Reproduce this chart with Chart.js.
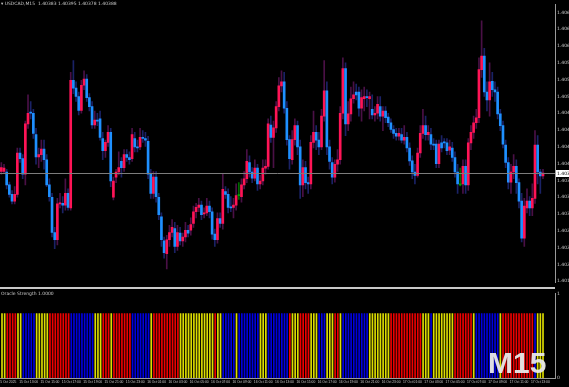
<!DOCTYPE html>
<html>
<head>
<meta charset="utf-8">
<script src="https://cdn.jsdelivr.net/npm/chart.js@4.4.0/dist/chart.umd.min.js"></script>
<style>
html, body { margin: 0; padding: 0; background: #000; overflow: hidden; }
#wrap { position: relative; width: 569px; height: 387px; }
#priceChart { position: absolute; left: 0; top: 0; }
#sep { position: absolute; left: 0; top: 287px; width: 555px; height: 2px; background: #c8c8c8; }
#strengthChart { position: absolute; left: 0; top: 289px; }
</style>
</head>
<body>
<div id="wrap">
  <canvas id="priceChart" width="569" height="287"></canvas>
  <div id="sep"></div>
  <canvas id="strengthChart" width="569" height="98"></canvas>
</div>
<script>
// USDCAD M15 candles
const opens = [
1.40391,1.40391,1.40390,1.40367,1.40350,1.40338,1.40350,1.40424,1.40414,1.40386,
1.40476,1.40497,1.40495,1.40457,1.40417,1.40421,1.40431,1.40412,1.40367,1.40345,
1.40282,1.40269,1.40333,1.40334,1.40331,1.40352,1.40326,1.40554,1.40540,1.40525,
1.40500,1.40545,1.40556,1.40523,1.40507,1.40474,1.40483,1.40485,1.40450,1.40428,
1.40443,1.40461,1.40345,1.40381,1.40390,1.40409,1.40398,1.40421,1.40416,1.40414,
1.40450,1.40435,1.40435,1.40452,1.40450,1.40445,1.40386,1.40352,1.40381,1.40345,
1.40310,1.40267,1.40244,1.40269,1.40282,1.40289,1.40257,1.40281,1.40267,1.40274,
1.40286,1.40286,1.40298,1.40319,1.40327,1.40331,1.40315,1.40317,1.40329,1.40319,
1.40279,1.40269,1.40307,1.40298,1.40355,1.40350,1.40327,1.40327,1.40331,1.40348,
1.40346,1.40367,1.40378,1.40407,1.40390,1.40379,1.40397,1.40369,1.40374,1.40397,
1.40400,1.40474,1.40452,1.40469,1.40507,1.40544,1.40551,1.40504,1.40448,1.40412,
1.40448,1.40473,1.40435,1.40367,1.40398,1.40371,1.40369,1.40443,1.40461,1.40447,
1.40435,1.40490,1.40535,1.40435,1.40407,1.40381,1.40404,1.40412,1.40495,1.40575,
1.40476,1.40494,1.40521,1.40533,1.40533,1.40504,1.40521,1.40525,1.40521,1.40502,
1.40492,1.40495,1.40507,1.40490,1.40499,1.40488,1.40478,1.40466,1.40459,1.40454,
1.40457,1.40447,1.40452,1.40433,1.40410,1.40390,1.40384,1.40424,1.40459,1.40473,
1.40457,1.40457,1.40440,1.40440,1.40405,1.40442,1.40443,1.40442,1.40429,1.40433,
1.40416,1.40390,1.40367,1.40369,1.40400,1.40367,1.40442,1.40461,1.40478,1.40487,
1.40573,1.40597,1.40533,1.40519,1.40552,1.40537,1.40533,1.40494,1.40473,1.40438,
1.40407,1.40372,1.40390,1.40400,1.40371,1.40338,1.40272,1.40326,1.40338,1.40326,
1.40343,1.40438,1.40390,1.40383];

const highs = [
1.40407,1.40404,1.40395,1.40372,1.40357,1.40364,1.40433,1.40433,1.40421,1.40481,
1.40528,1.40516,1.40502,1.40468,1.40433,1.40447,1.40447,1.40421,1.40378,1.40352,
1.40291,1.40343,1.40352,1.40346,1.40378,1.40360,1.40568,1.40589,1.40551,1.40533,
1.40554,1.40571,1.40564,1.40530,1.40516,1.40499,1.40495,1.40499,1.40461,1.40447,
1.40473,1.40468,1.40381,1.40395,1.40426,1.40416,1.40430,1.40430,1.40426,1.40468,
1.40461,1.40447,1.40468,1.40464,1.40461,1.40454,1.40395,1.40391,1.40391,1.40352,
1.40317,1.40274,1.40277,1.40295,1.40305,1.40300,1.40295,1.40291,1.40281,1.40300,
1.40295,1.40308,1.40329,1.40334,1.40343,1.40338,1.40326,1.40343,1.40338,1.40326,
1.40288,1.40317,1.40317,1.40386,1.40364,1.40360,1.40346,1.40343,1.40369,1.40371,
1.40378,1.40391,1.40430,1.40419,1.40398,1.40412,1.40404,1.40384,1.40412,1.40412,
1.40485,1.40490,1.40481,1.40516,1.40559,1.40571,1.40568,1.40516,1.40455,1.40464,
1.40485,1.40481,1.40447,1.40412,1.40409,1.40381,1.40455,1.40499,1.40473,1.40461,
1.40502,1.40589,1.40551,1.40447,1.40416,1.40412,1.40430,1.40507,1.40594,1.40585,
1.40516,1.40542,1.40551,1.40547,1.40542,1.40537,1.40542,1.40537,1.40533,1.40528,
1.40507,1.40525,1.40525,1.40507,1.40507,1.40495,1.40485,1.40473,1.40468,1.40468,
1.40468,1.40473,1.40461,1.40442,1.40419,1.40404,1.40433,1.40473,1.40502,1.40490,
1.40473,1.40468,1.40450,1.40447,1.40447,1.40455,1.40450,1.40450,1.40447,1.40443,
1.40426,1.40404,1.40397,1.40412,1.40412,1.40450,1.40473,1.40490,1.40502,1.40594,
1.40660,1.40611,1.40551,1.40585,1.40568,1.40551,1.40542,1.40502,1.40481,1.40447,
1.40416,1.40404,1.40421,1.40412,1.40378,1.40352,1.40343,1.40360,1.40346,1.40369,
1.40464,1.40455,1.40395,1.40395];

const lows = [
1.40386,1.40388,1.40360,1.40345,1.40333,1.40333,1.40345,1.40407,1.40378,1.40367,
1.40468,1.40485,1.40450,1.40404,1.40398,1.40409,1.40395,1.40364,1.40338,1.40274,
1.40253,1.40260,1.40326,1.40317,1.40322,1.40322,1.40322,1.40530,1.40516,1.40492,
1.40495,1.40537,1.40516,1.40499,1.40468,1.40468,1.40473,1.40447,1.40412,1.40416,
1.40436,1.40364,1.40340,1.40371,1.40385,1.40381,1.40391,1.40409,1.40404,1.40409,
1.40426,1.40426,1.40430,1.40443,1.40436,1.40378,1.40343,1.40343,1.40336,1.40305,
1.40257,1.40236,1.40217,1.40257,1.40274,1.40246,1.40250,1.40260,1.40257,1.40265,
1.40274,1.40277,1.40291,1.40308,1.40319,1.40305,1.40308,1.40312,1.40308,1.40270,
1.40257,1.40263,1.40291,1.40288,1.40343,1.40317,1.40319,1.40308,1.40322,1.40341,
1.40336,1.40360,1.40371,1.40381,1.40371,1.40374,1.40357,1.40360,1.40367,1.40386,
1.40395,1.40443,1.40398,1.40461,1.40499,1.40533,1.40495,1.40438,1.40395,1.40404,
1.40438,1.40421,1.40343,1.40346,1.40360,1.40352,1.40360,1.40433,1.40430,1.40421,
1.40430,1.40481,1.40421,1.40395,1.40369,1.40372,1.40391,1.40404,1.40485,1.40455,
1.40464,1.40481,1.40513,1.40519,1.40490,1.40481,1.40499,1.40507,1.40485,1.40485,
1.40481,1.40485,1.40481,1.40464,1.40478,1.40471,1.40461,1.40450,1.40447,1.40447,
1.40442,1.40440,1.40426,1.40402,1.40378,1.40369,1.40381,1.40416,1.40450,1.40447,
1.40447,1.40430,1.40430,1.40398,1.40398,1.40426,1.40433,1.40421,1.40421,1.40409,
1.40381,1.40352,1.40365,1.40352,1.40352,1.40357,1.40430,1.40450,1.40468,1.40478,
1.40559,1.40525,1.40499,1.40490,1.40525,1.40516,1.40485,1.40464,1.40433,1.40398,
1.40360,1.40352,1.40378,1.40352,1.40326,1.40265,1.40257,1.40317,1.40312,1.40312,
1.40334,1.40369,1.40352,1.40378];

const closes = [
1.40398,1.40397,1.40367,1.40350,1.40338,1.40350,1.40424,1.40414,1.40386,1.40476,
1.40495,1.40495,1.40459,1.40417,1.40421,1.40431,1.40412,1.40367,1.40346,1.40282,
1.40269,1.40333,1.40334,1.40331,1.40352,1.40327,1.40554,1.40540,1.40525,1.40500,
1.40545,1.40556,1.40523,1.40507,1.40474,1.40483,1.40481,1.40452,1.40428,1.40443,
1.40461,1.40374,1.40374,1.40390,1.40398,1.40398,1.40421,1.40416,1.40412,1.40457,
1.40435,1.40433,1.40452,1.40450,1.40447,1.40386,1.40352,1.40381,1.40346,1.40314,
1.40269,1.40246,1.40269,1.40282,1.40291,1.40257,1.40282,1.40267,1.40274,1.40286,
1.40281,1.40296,1.40319,1.40327,1.40331,1.40314,1.40317,1.40329,1.40319,1.40279,
1.40269,1.40307,1.40298,1.40359,1.40350,1.40327,1.40326,1.40331,1.40348,1.40348,
1.40367,1.40378,1.40409,1.40390,1.40379,1.40397,1.40369,1.40374,1.40397,1.40400,
1.40476,1.40452,1.40469,1.40507,1.40544,1.40551,1.40504,1.40448,1.40414,1.40448,
1.40473,1.40435,1.40367,1.40398,1.40371,1.40369,1.40443,1.40461,1.40447,1.40435,
1.40490,1.40535,1.40435,1.40409,1.40381,1.40404,1.40412,1.40495,1.40575,1.40476,
1.40494,1.40521,1.40528,1.40528,1.40504,1.40523,1.40525,1.40523,1.40525,1.40492,
1.40495,1.40511,1.40490,1.40499,1.40487,1.40478,1.40466,1.40459,1.40454,1.40459,
1.40447,1.40452,1.40433,1.40410,1.40390,1.40384,1.40424,1.40459,1.40473,1.40457,
1.40461,1.40440,1.40438,1.40405,1.40440,1.40433,1.40442,1.40428,1.40435,1.40416,
1.40390,1.40369,1.40367,1.40400,1.40367,1.40442,1.40461,1.40478,1.40487,1.40573,
1.40597,1.40533,1.40519,1.40551,1.40537,1.40533,1.40494,1.40473,1.40440,1.40407,
1.40372,1.40390,1.40400,1.40371,1.40338,1.40272,1.40329,1.40338,1.40326,1.40343,
1.40438,1.40390,1.40383,1.40388];

// Oracle Strength: Y = yellow, R = red, B = blue, one per candle, level always 1
const strengthState = ('YY RRRR YY BBBBB YYYYY RRRRRRRR BBBBBBBBB YYY RRR Y RRRRRRR BBBBBBB Y RRRRRRRRRR ' +
  'YYYYYYYYYYYYY R YY BBBBB Y BBBBBBBB YYY BBBBBBBB R YYY RRRR YYY BBB YYY RR Y BBBBBBBBBB ' +
  'YYYYYYYY RRRRRRRRRRRR YYY B YYYYYYYY RRRRRRR Y BBBBBBBBB Y RRRRRRRRRRRR B YYY').replace(/ /g, '').split('');
const strengthLevel = { Y: 1, R: 1, B: 1 };

const priceTicks = [1.40675, 1.40645, 1.40615, 1.40585, 1.40555, 1.40525, 1.40495, 1.40465, 1.40435,
  1.40405, 1.40375, 1.40345, 1.40315, 1.40285, 1.40255, 1.40225, 1.40195];
const strengthTicks = [1.31, 0];
const strengthTickLabels = ['1', '0'];

const timeLabels = ['15 Oct 2025', '15 Oct 13:00', '15 Oct 15:00', '15 Oct 17:00', '15 Oct 19:00', '15 Oct 21:00',
  '15 Oct 23:00', '16 Oct 01:00', '16 Oct 03:00', '16 Oct 05:00', '16 Oct 07:00', '16 Oct 09:00', '16 Oct 11:00',
  '16 Oct 13:00', '16 Oct 15:00', '16 Oct 17:00', '16 Oct 19:00', '16 Oct 21:00', '16 Oct 23:00', '17 Oct 01:00',
  '17 Oct 03:00', '17 Oct 05:00', '17 Oct 07:00', '17 Oct 09:00', '17 Oct 11:00', '17 Oct 13:00'];

const bidPrice = 1.40388;
const header = 'USDCAD,M15  1.40383 1.40395 1.40378 1.40388';

// 4 empty slots on the right = chart shift
const slots = opens.length + 4;
const categories = Array.from({ length: slots }, (_, i) => i);

const BULL = '#ff1456', BEAR = '#1e90ff', DOJI = '#00a000';
const candleColor = (i) => closes[i] > opens[i] ? BULL : closes[i] < opens[i] ? BEAR : DOJI;
const wickColor = (i) => closes[i] > opens[i] ? '#4a1046' : closes[i] < opens[i] ? '#1a2266' : '#006a00';
const stateColor = { Y: '#dcdc00', R: '#ee0000', B: '#0000e0' };

const tinyFont = { family: 'DejaVu Sans', size: 4.5 };
const timeFont = { family: 'Liberation Sans', size: 3.3 };
const AXIS_W = 14;

const overlayPrice = {
    id: 'overlayPrice',
    afterDatasetsDraw(chart) {
        const { ctx, chartArea, scales } = chart;
        const y = Math.round(scales.y.getPixelForValue(bidPrice)) + 0.5;
        ctx.save();
        ctx.strokeStyle = '#7c7c7c';
        ctx.lineWidth = 1;
        ctx.beginPath(); ctx.moveTo(chartArea.left, y); ctx.lineTo(chartArea.right, y); ctx.stroke();
        ctx.fillStyle = '#ffffff';
        ctx.fillRect(chartArea.right + 1, y - 3.5, 14, 7);
        ctx.fillStyle = '#000';
        ctx.font = '4.5px "DejaVu Sans"';
        ctx.textBaseline = 'middle';
        ctx.fillText(bidPrice.toFixed(5), chartArea.right + 2, y);
        ctx.fillStyle = '#c8c8c8';
        ctx.textBaseline = 'top';
        ctx.fillText('\u25BE ' + header, 1, 2);
        ctx.restore();
    }
};

new Chart(document.getElementById('priceChart').getContext('2d'), {
    type: 'bar',
    data: {
        labels: categories,
        datasets: [
            { label: 'body', data: opens.map((o, i) => [o, closes[i]]), backgroundColor: opens.map((_, i) => candleColor(i)),
              barThickness: 2, grouped: false, minBarLength: 1 },
            { label: 'wick', data: lows.map((l, i) => [l, highs[i]]), backgroundColor: lows.map((_, i) => wickColor(i)),
              barThickness: 1, grouped: false }
        ]
    },
    options: {
        responsive: false, animation: false, devicePixelRatio: 1,
        layout: { padding: 0 },
        plugins: { legend: { display: false }, tooltip: { enabled: false } },
        scales: {
            x: { display: false, offset: true },
            y: {
                position: 'right', min: 1.40193, max: 1.40689,
                grid: { display: false, drawTicks: false },
                border: { display: true, color: '#9a9a9a' },
                afterBuildTicks: (s) => { s.ticks = priceTicks.map(v => ({ value: v })); },
                afterFit: (s) => { s.width = AXIS_W; },
                ticks: { color: '#c8c8c8', font: tinyFont, padding: 2, callback: (v) => Number(v).toFixed(5) }
            }
        }
    },
    plugins: [overlayPrice]
});

const overlayStrength = {
    id: 'overlayStrength',
    afterDraw(chart) {
        const { ctx } = chart;
        ctx.save();
        ctx.fillStyle = '#c8c8c8';
        ctx.font = '4.5px "DejaVu Sans"';
        ctx.textBaseline = 'top';
        ctx.fillText('Oracle Strength 1.0000', 1, 3);
        ctx.font = 'bold 30px "Liberation Sans"';
        ctx.textBaseline = 'alphabetic';
        ctx.fillStyle = 'rgba(232,232,232,0.95)';
        ctx.fillText('M15', 488, 84);
        ctx.restore();
    }
};

new Chart(document.getElementById('strengthChart').getContext('2d'), {
    type: 'bar',
    data: {
        labels: categories,
        datasets: [
            { label: 'strength', data: strengthState.map(s => strengthLevel[s]),
              backgroundColor: strengthState.map(s => stateColor[s]), barThickness: 1 }
        ]
    },
    options: {
        responsive: false, animation: false, devicePixelRatio: 1,
        layout: { padding: { top: 1 } },
        plugins: { legend: { display: false }, tooltip: { enabled: false } },
        scales: {
            x: {
                offset: true,
                grid: { display: false, drawTicks: false },
                border: { display: true, color: '#9a9a9a' },
                afterFit: (s) => { s.height = 9; },
                ticks: {
                    autoSkip: false, maxRotation: 0, color: '#c8c8c8', font: timeFont, padding: 2,
                    callback: (v, idx) => (idx - 2) % 8 === 0 && timeLabels[(idx - 2) / 8] ? timeLabels[(idx - 2) / 8] : ''
                }
            },
            y: {
                position: 'right', min: 0, max: 1.31,
                grid: { display: false, drawTicks: false },
                border: { display: true, color: '#9a9a9a' },
                afterBuildTicks: (s) => { s.ticks = strengthTicks.map(v => ({ value: v })); },
                afterFit: (s) => { s.width = AXIS_W; },
                ticks: { color: '#c8c8c8', font: tinyFont, padding: 2,
                         callback: (v, idx) => strengthTickLabels[idx] }
            }
        }
    },
    plugins: [overlayStrength]
});
</script>
</body>
</html>
